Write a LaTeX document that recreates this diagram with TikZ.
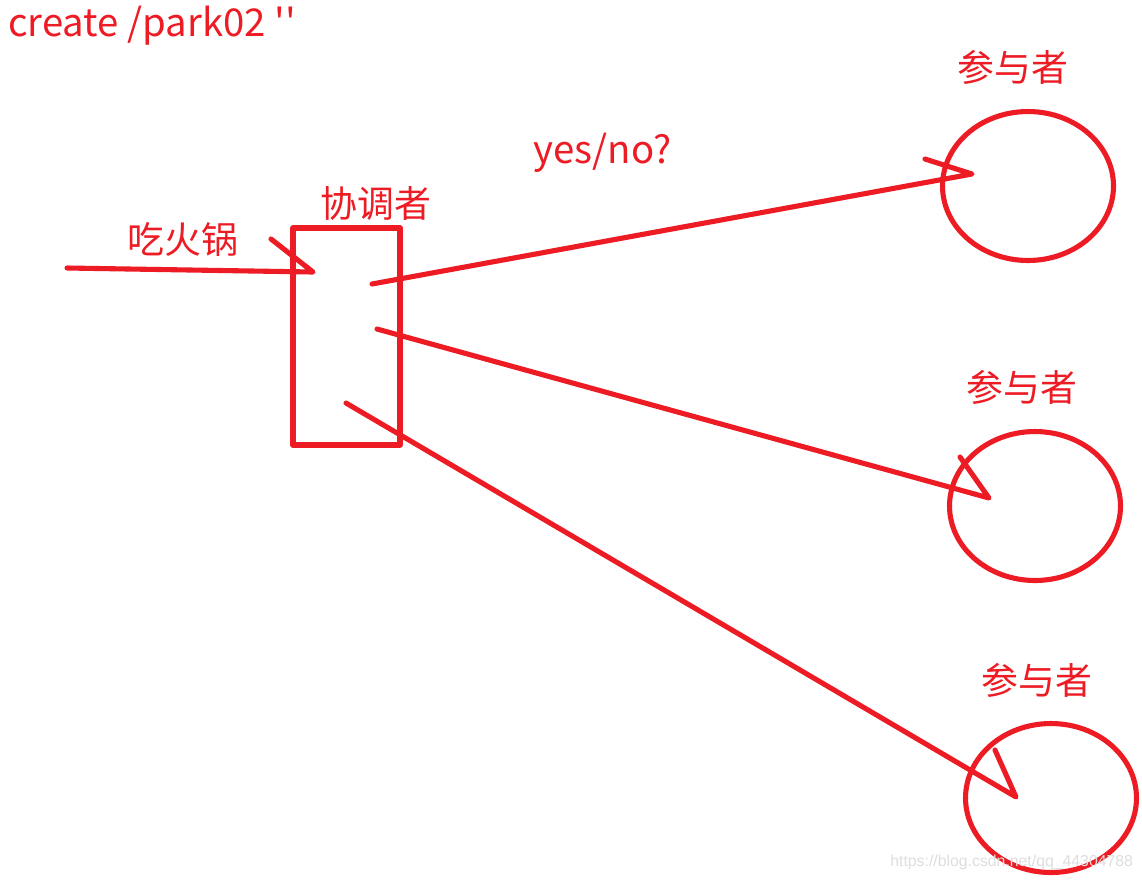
\documentclass[tikz,border=0pt]{standalone}
\usepackage{fontspec}
\setmainfont{Noto Sans CJK SC}
\newfontfamily\wmfont{Liberation Sans}
\usetikzlibrary{shapes.geometric}
\definecolor{pen}{RGB}{237,28,36}
\definecolor{wm}{RGB}{222,222,222}
\tikzset{
  stroke/.style={draw=pen, line width=2.9pt, line cap=round, line join=round},
  label/.style={text=pen, inner sep=0pt, font=\fontsize{21pt}{24pt}\selectfont},
  circ/.style={stroke, ellipse, minimum width=3.42cm, minimum height=2.98cm, inner sep=0pt},
}
\begin{document}
\begin{tikzpicture}[x=0.02cm, y=-0.02cm]
\useasboundingbox (0,0) rectangle (1142,880);
\fill[white] (0,0) rectangle (1142,880);
% texts
\node[label, anchor=west, font=\fontsize{21.8pt}{24pt}\selectfont] (title) at (8,26) {create /park02 \textquotesingle\textquotesingle};
\node[label] (eat) at (183,240) {吃火锅};
\node[label] (coordlbl) at (376,203) {协调者};
\node[label, font=\fontsize{21.8pt}{24pt}\selectfont] (yn) at (603,153) {yes/no?};
\node[label] (p1lbl) at (1013,67) {参与者};
\node[label] (p2lbl) at (1022,387) {参与者};
\node[label] (p3lbl) at (1037,680) {参与者};
% coordinator box
\node[stroke, rectangle, minimum width=2.14cm, minimum height=4.34cm, inner sep=0pt] (box) at (346.5,336.5) {};
% participants
\node[circ] (p1) at (1028,186) {};
\node[circ] (p2) at (1035,506) {};
\node[circ] (p3) at (1051,798) {};
% connector points
\coordinate (in0) at (67,268);
\coordinate (in1) at (313,272);
\coordinate (inb) at (271,239);
\coordinate (a0) at (372,284);
\coordinate (a1) at (972,174);
\coordinate (ab) at (925,159);
\coordinate (b0) at (377,329);
\coordinate (b1) at (989,498);
\coordinate (bb) at (960,457);
\coordinate (c0) at (346,403);
\coordinate (c1) at (1016,797);
\coordinate (cb) at (995,750);
% connectors
\draw[stroke] (in0) -- (in1) -- (inb);
\draw[stroke] (a0) -- (a1) -- (ab);
\draw[stroke] (b0) -- (b1) -- (bb);
\draw[stroke] (c0) -- (c1) -- (cb);
% watermark
\node[text=wm, inner sep=0pt, anchor=west, font=\wmfont\fontsize{9pt}{10pt}\selectfont] (wmark) at (890,862) {https://blog.csdn.net/qq\_44304788};
\end{tikzpicture}
\end{document}
